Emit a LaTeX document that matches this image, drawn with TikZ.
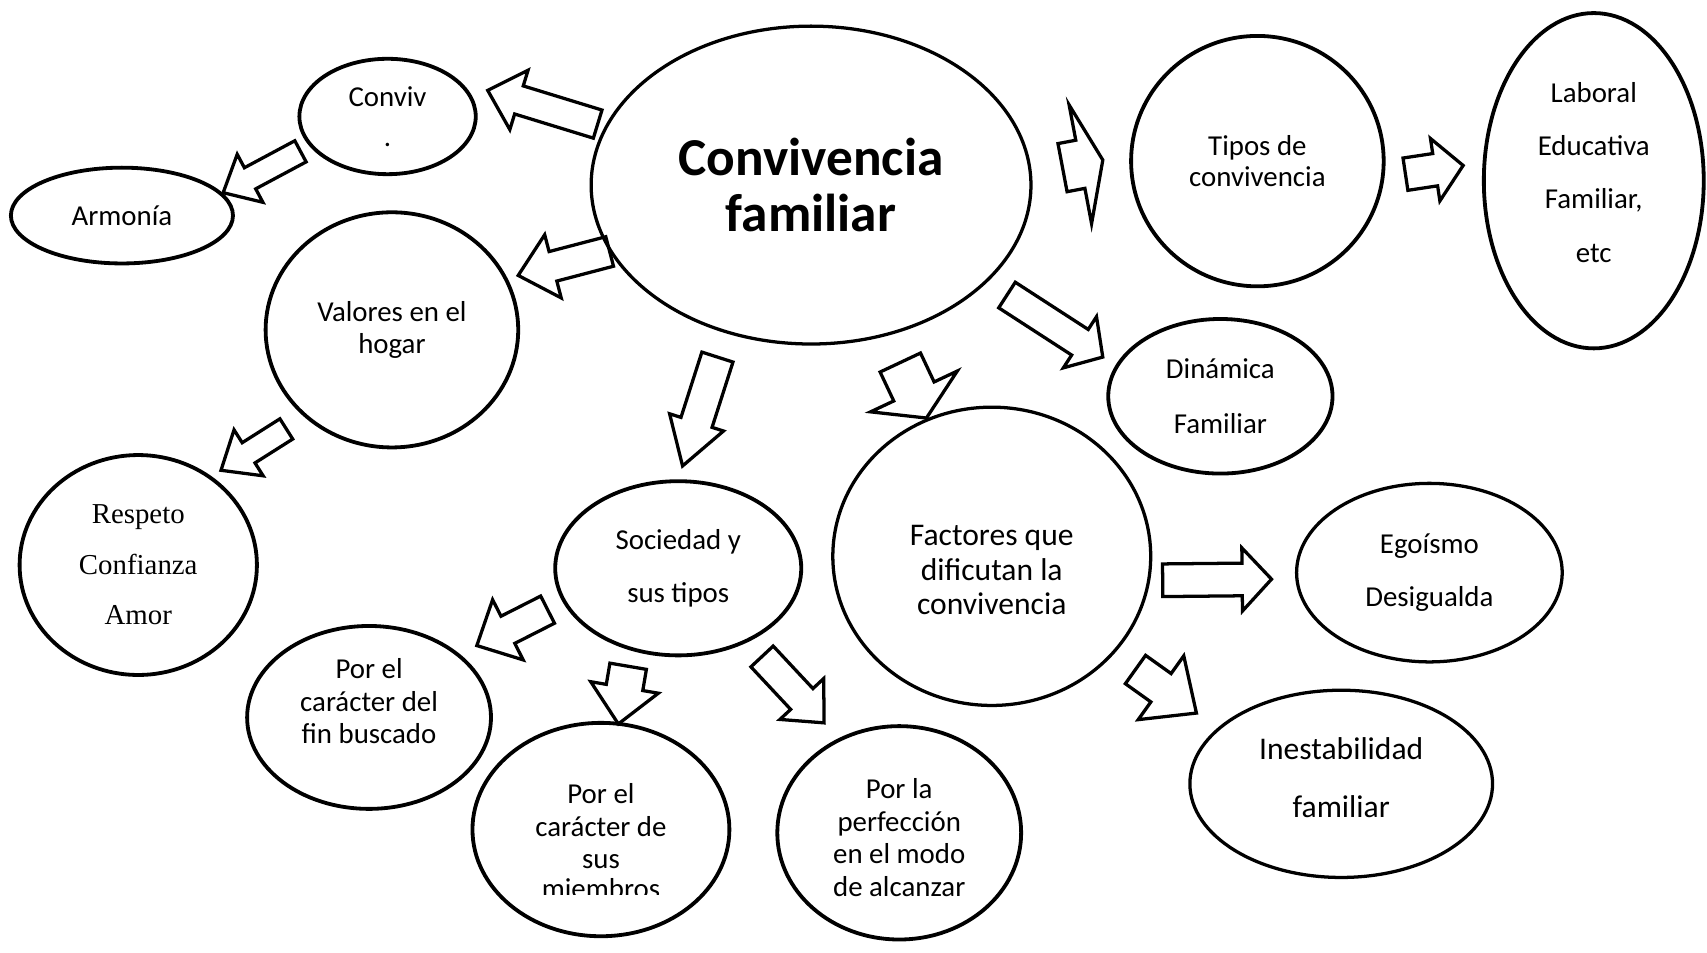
\documentclass[tikz,border=0pt]{standalone}
\usepackage{fontspec}
\setmainfont{Carlito}
\newfontfamily\timesfont{Liberation Serif}
\usetikzlibrary{calc,shapes.geometric}

% hollow block arrow from #1 to #2: shaft width, head width, head length
\newcommand\blockarrow[5]{%
  \path let \p1=($(#2)-(#1)$), \n1={atan2(\y1,\x1)}, \n2={veclen(\x1,\y1)} in
    \pgfextra{\xdef\arrowang{\n1}\xdef\arrowlen{\n2}};
  \draw[line width=3pt, shift={(#1)}, rotate=\arrowang]
    (0,#3/2) -- ({\arrowlen-#5},#3/2) -- ({\arrowlen-#5},#4/2) -- (\arrowlen,0)
    -- ({\arrowlen-#5},-#4/2) -- ({\arrowlen-#5},-#3/2) -- (0,-#3/2) -- cycle;
}

\begin{document}
\begin{tikzpicture}[x=1pt, y=-1pt,
    bubble/.style={ellipse, draw, line width=3.5pt, inner sep=0pt, align=center},
    tight/.style={font=\fontsize{26.5}{30}\selectfont},
    loose/.style={font=\fontsize{26.5}{49}\selectfont}]
  \useasboundingbox[fill=white] (0,0) rectangle (1568,875);

  \node[bubble, line width=3pt, minimum width=404, minimum height=292,
        font=\fontsize{49}{52}\selectfont\bfseries] (main) at (745,170) {Convivencia\\familiar};

  \node[bubble, minimum width=162, minimum height=106,
        font=\fontsize{26.5}{37}\selectfont] (conviv) at (356,107) {Conviv\\.};
  \node[bubble, tight, minimum width=204, minimum height=88] (armonia) at (112,198) {Armonía};
  \node[bubble, tight, minimum width=232, minimum height=216] (valores) at (360,303) {Valores en el\\hogar};
  \node[bubble, minimum width=218, minimum height=202,
        font=\timesfont\fontsize{26.5}{46.5}\selectfont] (respeto) at (127,519) {Respeto\\Confianza\\Amor};

  \node[bubble, loose, minimum width=226, minimum height=160] (sociedad) at (623,522) {Sociedad y\\sus tipos};
  \node[bubble, tight, minimum width=224, minimum height=168] (porfin) at (339,659) {Por el\\carácter del\\fin buscado\\\mbox{}};
  \node[bubble, tight, minimum width=236, minimum height=196] (pormiem) at (552,762) {Por el\\carácter de\\sus\\[-24pt]\mbox{}};
  \begin{scope}
    \clip (440,790) rectangle (660,822);
    \node[tight, anchor=base, inner sep=0pt] (miembros) at (552,825) {miembros};
  \end{scope}
  \node[bubble, tight, minimum width=224, minimum height=196] (porperf) at (826,765) {\mbox{}\\[-3pt]Por la\\perfección\\en el modo\\de alcanzar};

  \node[bubble, line width=3pt, minimum width=292, minimum height=274,
        font=\fontsize{29}{32}\selectfont] (factores) at (911,511) {\mbox{}\\[12pt]Factores que\\dificutan la\\convivencia};
  \node[bubble, font=\fontsize{26.5}{50}\selectfont, minimum width=206, minimum height=142] (dinamica) at (1121,364) {Dinámica\\Familiar};
  \node[bubble, font=\fontsize{26.5}{29}\selectfont, minimum width=232, minimum height=230] (tipos) at (1155,148) {Tipos de\\convivencia};
  \node[bubble, loose, minimum width=202, minimum height=308] (laboral) at (1464,166) {Laboral\\Educativa\\Familiar,\\etc\\[-33pt]\mbox{}};
  \node[bubble, loose, line width=3pt, minimum width=244, minimum height=164] (egoismo) at (1313,526) {Egoísmo\\Desigualda};
  \node[bubble, line width=3pt, font=\fontsize{29}{53}\selectfont, minimum width=278, minimum height=172] (inestab) at (1232,720) {Inestabilidad\\familiar\\[-41pt]\mbox{}};

  % arrows
  \coordinate (t1) at (549,114);  \coordinate (h1) at (448,83);
  \coordinate (t2) at (276,139);  \coordinate (h2) at (205,177);
  \coordinate (t3) at (560,231);  \coordinate (h3) at (476,253);
  \coordinate (t4) at (263,394);  \coordinate (h4) at (203,432);
  \coordinate (t5) at (659,328);  \coordinate (h5) at (627,428);
  \coordinate (t6) at (827,333);  \coordinate (h6) at (851,384);
  \coordinate (t7) at (925,271);  \coordinate (h7) at (1013,328);
  \coordinate (t8) at (976,154);  \coordinate (h8) at (1013,147);
  \coordinate (t9) at (1291,160); \coordinate (h9) at (1344,152);
  \coordinate (t10) at (503,560); \coordinate (h10) at (438,593);
  \coordinate (t11) at (577,612); \coordinate (h11) at (568,665);
  \coordinate (t12) at (700,603); \coordinate (h12) at (757,664);
  \coordinate (t13) at (1068,533); \coordinate (h13) at (1168,532);
  \coordinate (t14) at (1043,615); \coordinate (h14) at (1099,655);

  \blockarrow{t1}{h1}{27}{57}{30}
  \blockarrow{t2}{h2}{22}{50}{28}
  \blockarrow{t3}{h3}{28}{60}{33}
  \blockarrow{t4}{h4}{22}{50}{30}
  \blockarrow{t5}{h5}{30}{52}{42}
  \blockarrow{t6}{h6}{41}{88}{27}
  \blockarrow{t7}{h7}{28}{56}{25}
  \blockarrow{t8}{h8}{45}{111}{21}
  \blockarrow{t9}{h9}{30}{58}{26}
  \blockarrow{t10}{h10}{28}{62}{32}
  \blockarrow{t11}{h11}{34}{63}{34}
  \blockarrow{t12}{h12}{28}{55}{30}
  \blockarrow{t13}{h13}{30}{58}{27}
  \blockarrow{t14}{h14}{32}{72}{40}
\end{tikzpicture}
\end{document}
